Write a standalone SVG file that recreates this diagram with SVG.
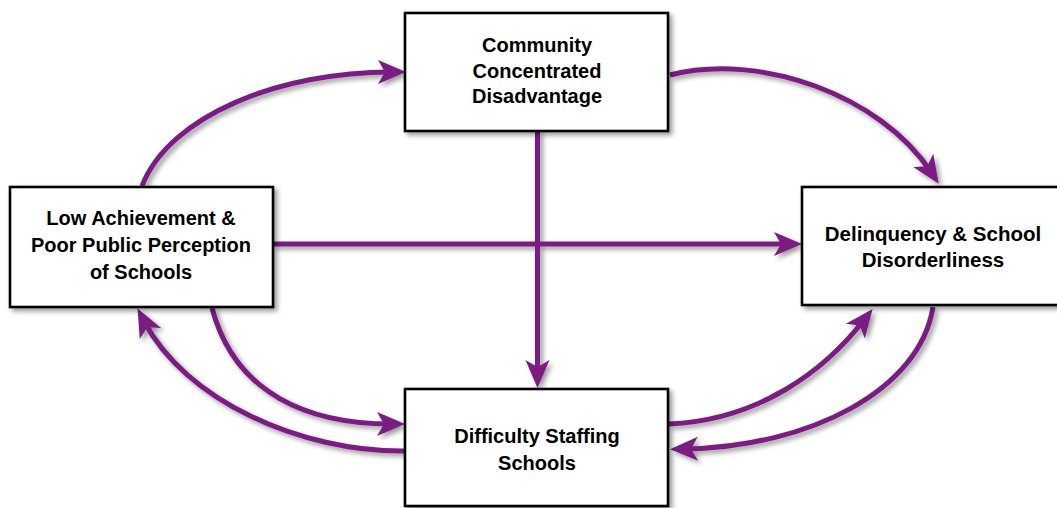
<svg xmlns="http://www.w3.org/2000/svg" width="1057" height="508" viewBox="0 0 1057 508">
<style>
.box{fill:#fff;stroke:#000;stroke-width:2.6}
.lbl{font-family:"Liberation Sans",Arial,sans-serif;font-weight:bold;font-size:20px;fill:#000;text-anchor:middle}
.conn{fill:none;stroke:#7a1e82;stroke-width:5;marker-end:url(#ah)}
</style>
<defs>
<filter id="sh" x="-20%" y="-20%" width="140%" height="140%">
<feDropShadow dx="3" dy="3" stdDeviation="2.5" flood-color="#000" flood-opacity="0.4"/>
</filter>
<marker id="ah" viewBox="-16 -14 32 28" refX="0" refY="0" markerWidth="32" markerHeight="28" orient="auto" markerUnits="userSpaceOnUse">
<path d="M14,0 L-14,-12 L-7,0 L-14,12 Z" fill="#7a1e82"/>
</marker>
</defs>
<rect width="1057" height="508" fill="#fff"/>
<g id="connectors" filter="url(#sh)">
<path class="conn" d="M142,186 C170,115 280,72 392,72"/>
<path class="conn" d="M670,75 C760,52 880,95 931,172"/>
<path class="conn" d="M537.5,131 L537.5,374"/>
<path class="conn" d="M273,244 L788,244"/>
<path class="conn" d="M212,308 C235,395 310,424 391,424"/>
<path class="conn" d="M405,451 C300,452 185,400 144,321"/>
<path class="conn" d="M669,424 C760,420 825,370 864,320"/>
<path class="conn" d="M933,307 C920,390 810,447 684,449"/>
</g>
<g id="node-community">
<rect class="box" x="405" y="13" width="263" height="118" filter="url(#sh)"/>
<text class="lbl" x="537" y="52">Community</text>
<text class="lbl" x="537" y="78">Concentrated</text>
<text class="lbl" x="537" y="103">Disadvantage</text>
</g>
<g id="node-low">
<rect class="box" x="10" y="187" width="263" height="120" filter="url(#sh)"/>
<text class="lbl" x="141" y="225">Low Achievement &amp;</text>
<text class="lbl" x="141" y="252">Poor Public Perception</text>
<text class="lbl" x="141" y="279">of Schools</text>
</g>
<g id="node-delinquency">
<rect class="box" x="802" y="187" width="263" height="118" filter="url(#sh)"/>
<text class="lbl" x="933" y="241" style="font-size:20.5px">Delinquency &amp; School</text>
<text class="lbl" x="933" y="267" style="font-size:20.5px">Disorderliness</text>
</g>
<g id="node-difficulty">
<rect class="box" x="405" y="389" width="263" height="117" filter="url(#sh)"/>
<text class="lbl" x="537" y="443">Difficulty Staffing</text>
<text class="lbl" x="537" y="470">Schools</text>
</g>
</svg>
